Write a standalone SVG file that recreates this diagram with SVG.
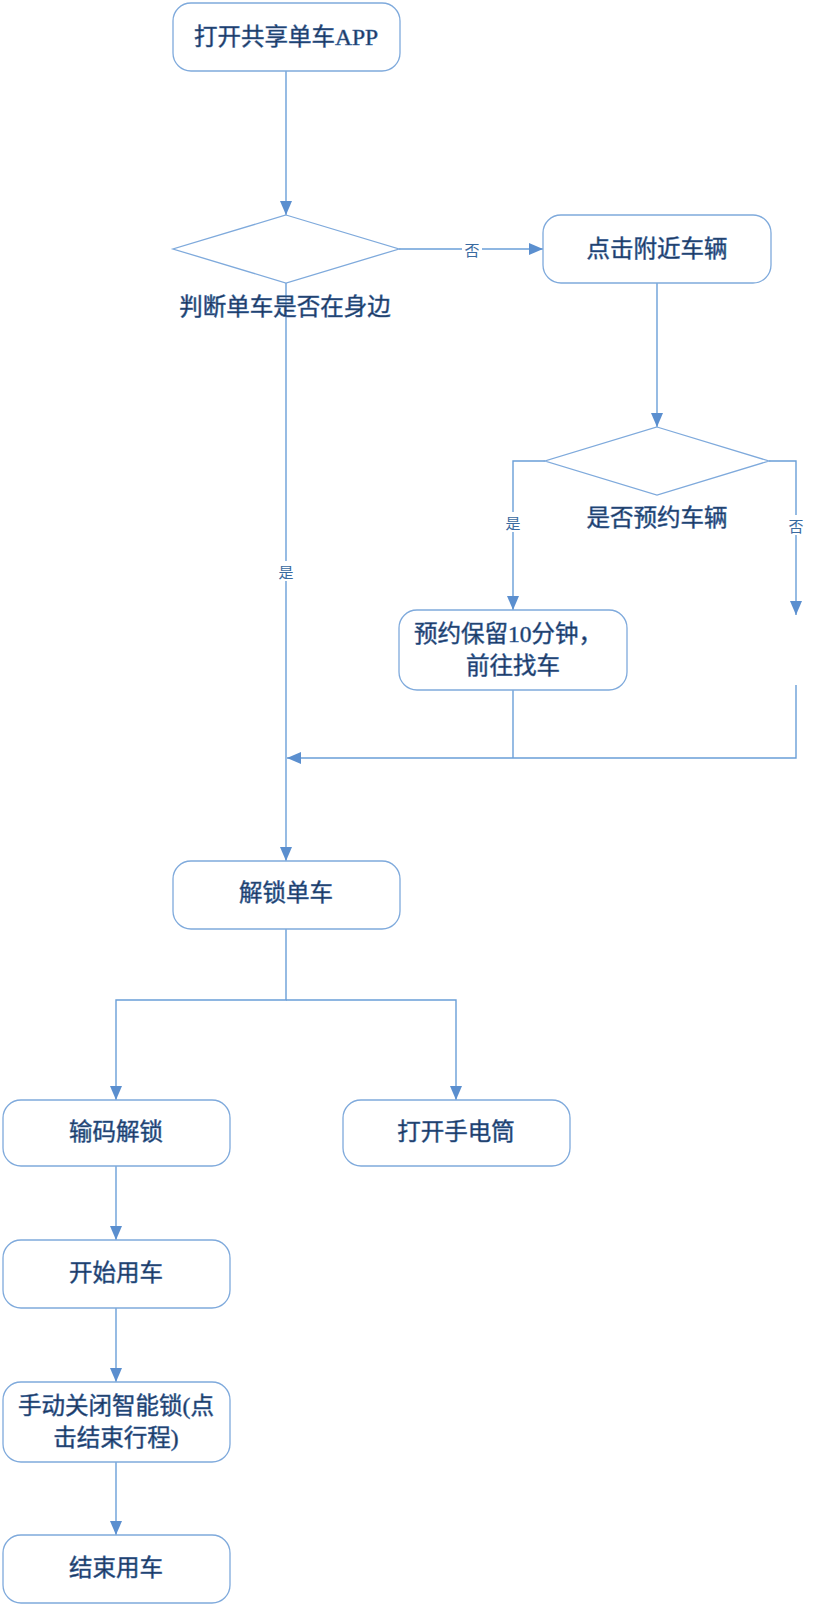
<svg xmlns="http://www.w3.org/2000/svg" width="838" height="1606" viewBox="0 0 838 1606">
<defs>
<style>
.box{fill:#ffffff;stroke:#7faadc;stroke-width:1.3}
.dia{fill:#ffffff;stroke:#7faadc;stroke-width:1.3}
.t{font-family:"Liberation Serif","Noto Sans CJK SC",serif;font-size:23.5px;fill:#1c3559;stroke:#3d6ba5;stroke-width:0.55;text-anchor:middle;dominant-baseline:central}
.c{fill:none;stroke:#6a9fd8;stroke-width:1.4}
.lbl{font-family:"Noto Sans CJK SC",sans-serif;font-size:15px;fill:#3a6aa0;text-anchor:middle;dominant-baseline:central}
.bg{fill:#ffffff}
</style>
<marker id="ah" markerUnits="userSpaceOnUse" markerWidth="14" markerHeight="12" refX="14" refY="6" orient="auto">
<path d="M0,0 L14,6 L0,12 z" fill="#5b8fcf"/>
</marker>
</defs>
<rect width="838" height="1606" fill="#ffffff"/>
<g id="connectors">
<path class="c" d="M286,71 L286,215" marker-end="url(#ah)"/>
<path class="c" d="M399,249 L543,249" marker-end="url(#ah)"/>
<path class="c" d="M286,283 L286,861" marker-end="url(#ah)"/>
<path class="c" d="M657,283 L657,427" marker-end="url(#ah)"/>
<path class="c" d="M545,461 L513,461 L513,610" marker-end="url(#ah)"/>
<path class="c" d="M769,461 L796,461 L796,615" marker-end="url(#ah)"/>
<path class="c" d="M796,685 L796,758 L287,758" marker-end="url(#ah)"/>
<path class="c" d="M513,690 L513,758"/>
<path class="c" d="M286,929 L286,1000 L116,1000 L116,1100" marker-end="url(#ah)"/>
<path class="c" d="M286,1000 L456,1000 L456,1100" marker-end="url(#ah)"/>
<path class="c" d="M116,1166 L116,1240" marker-end="url(#ah)"/>
<path class="c" d="M116,1308 L116,1382" marker-end="url(#ah)"/>
<path class="c" d="M116,1462 L116,1535" marker-end="url(#ah)"/>
<rect class="bg" x="462" y="240" width="20" height="18"/>
<text class="lbl" x="472" y="249">否</text>
<rect class="bg" x="276" y="561" width="20" height="20"/>
<text class="lbl" x="286" y="571">是</text>
<rect class="bg" x="503" y="512" width="20" height="20"/>
<text class="lbl" x="513" y="522">是</text>
<rect class="bg" x="786" y="515" width="20" height="20"/>
<text class="lbl" x="796" y="525">否</text>
</g>
<g id="n1">
<rect class="box" x="173" y="3" width="227" height="68" rx="18"/>
<text class="t" x="286" y="37">打开共享单车APP</text>
</g>
<g id="n2">
<polygon class="dia" points="286,215 399,249 286,283 173,249"/>
<text class="t" x="285" y="307">判断单车是否在身边</text>
</g>
<g id="n3">
<rect class="box" x="543" y="215" width="228" height="68" rx="18"/>
<text class="t" x="657" y="249">点击附近车辆</text>
</g>
<g id="n4">
<polygon class="dia" points="657,427 769,461 657,495 545,461"/>
<text class="t" x="657" y="518">是否预约车辆</text>
</g>
<g id="n5">
<rect class="box" x="399" y="610" width="228" height="80" rx="18"/>
<text class="t" x="508" y="634">预约保留10分钟，</text>
<text class="t" x="513" y="666">前往找车</text>
</g>
<g id="n6">
<rect class="box" x="173" y="861" width="227" height="68" rx="18"/>
<text class="t" x="286" y="893">解锁单车</text>
</g>
<g id="n7">
<rect class="box" x="3" y="1100" width="227" height="66" rx="18"/>
<text class="t" x="116" y="1132">输码解锁</text>
</g>
<g id="n8">
<rect class="box" x="343" y="1100" width="227" height="66" rx="18"/>
<text class="t" x="456" y="1132">打开手电筒</text>
</g>
<g id="n9">
<rect class="box" x="3" y="1240" width="227" height="68" rx="18"/>
<text class="t" x="116" y="1273">开始用车</text>
</g>
<g id="n10">
<rect class="box" x="3" y="1382" width="227" height="80" rx="18"/>
<text class="t" x="116" y="1406">手动关闭智能锁(点</text>
<text class="t" x="116" y="1438">击结束行程)</text>
</g>
<g id="n11">
<rect class="box" x="3" y="1535" width="227" height="68" rx="18"/>
<text class="t" x="116" y="1568">结束用车</text>
</g>
</svg>
